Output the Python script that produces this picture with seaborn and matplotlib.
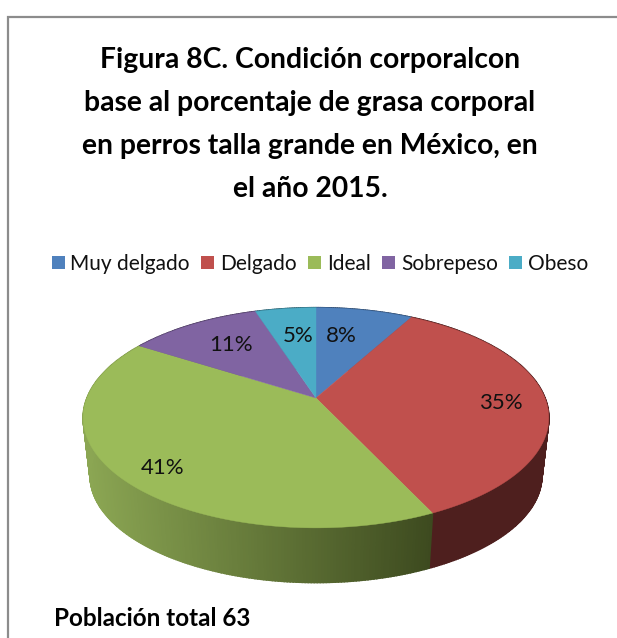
import numpy as np
import matplotlib
matplotlib.use('Agg')
import matplotlib.pyplot as plt
from matplotlib.patches import Patch
import seaborn as sns

categories = ['Muy delgado', 'Delgado', 'Ideal', 'Sobrepeso', 'Obeso']
values = [8, 35, 41, 11, 5]
title_lines = ['Figura 8C. Condición corporalcon',
               'base al porcentaje de grasa corporal',
               'en perros talla grande en México, en',
               'el año 2015.']
note = 'Población total 63'

colors = sns.color_palette(['#4f81bd', '#c0504d', '#9bbb59', '#8064a2', '#4bacc6'])
# side wall colours, left end and right end of each wall
side_left = ['#2c4a70', '#5c2523', '#8ba653', '#4c3b61', '#2d6676']
side_right = ['#2c4a70', '#4e1f1e', '#3d4a1f', '#4c3b61', '#2d6676']

sns.set_theme(style='white')
plt.rcParams['font.family'] = ['Lato', 'DejaVu Sans']

# tilted pie geometry, in pixels of the picture
CX, CY, RX, RY, PERSP = 316, 398, 229, 106.5, 0.18
DEPTH, SHRINK = 58.5, 0.97


def project(theta, r=1.0, lower=False):
    u, v = r * np.sin(theta), r * np.cos(theta)
    d = 1 + PERSP * v
    x, y = RX * u / d, -RY * v / d
    if lower:
        return CX + SHRINK * x, CY + DEPTH + SHRINK * y
    return CX + x, CY + y


def blend(c1, c2, t):
    a, b = np.array(matplotlib.colors.to_rgb(c1)), np.array(matplotlib.colors.to_rgb(c2))
    return a + (b - a) * t


fig = plt.figure(figsize=(6.17, 6.38), dpi=100)
ax = fig.add_axes([0, 0, 1, 1])
ax.set_xlim(0, 617)
ax.set_ylim(638, 0)
ax.axis('off')

# chart frame
ax.plot([8, 8, 617], [638, 17, 17], color='#8c8c8c', lw=1.6, solid_joinstyle='miter')

edges = np.cumsum([0] + values) / sum(values) * 2 * np.pi

# side walls first, the top surface goes over them
for i in range(len(values)):
    n = max(int((edges[i + 1] - edges[i]) * 90), 2)
    th = np.linspace(edges[i], edges[i + 1], n + 1)
    for a, b in zip(th[:-1], th[1:]):
        xa, ya = project(a)
        xb, yb = project(b)
        xc, yc = project(b, lower=True)
        xd, yd = project(a, lower=True)
        t = np.clip(((xa + xb) / 2 - 85) / (433 - 85), 0, 1)
        c = blend(side_left[i], side_right[i], t)
        ax.fill([xa, xb, xc, xd], [ya, yb, yc, yd], color=c, lw=1.2, zorder=2)

# top surface
for i in range(len(values)):
    th = np.linspace(edges[i], edges[i + 1], 200)
    x, y = project(th)
    ax.fill(np.r_[CX, x], np.r_[CY, y], color=colors[i], lw=0.3, zorder=3)

pct_pos = [(341, 336), (501, 403), (163, 468), (231, 345), (298, 336)]
for v, (px, py) in zip(values, pct_pos):
    ax.text(px, py, f'{v}%', fontsize=16, color='#111111', ha='center', va='center', zorder=4)

title_y = [60, 103, 146, 189]
for line, y in zip(title_lines, title_y):
    ax.text(310, y, line, fontsize=20.3, fontweight='bold', color='black',
            ha='center', va='center')

handles = [Patch(facecolor=c, edgecolor='none') for c in colors]
ax.legend(handles, categories, ncol=5, loc='center', bbox_to_anchor=(320 / 617, 1 - 264 / 638),
          frameon=False, fontsize=15, handlelength=0.62, handleheight=0.62,
          handletextpad=0.28, columnspacing=0.55, borderpad=0, labelcolor='#111111')

ax.text(54, 618, note, fontsize=17.5, fontweight='bold', color='black', ha='left', va='center')

fig.savefig('out.png', dpi=100)
